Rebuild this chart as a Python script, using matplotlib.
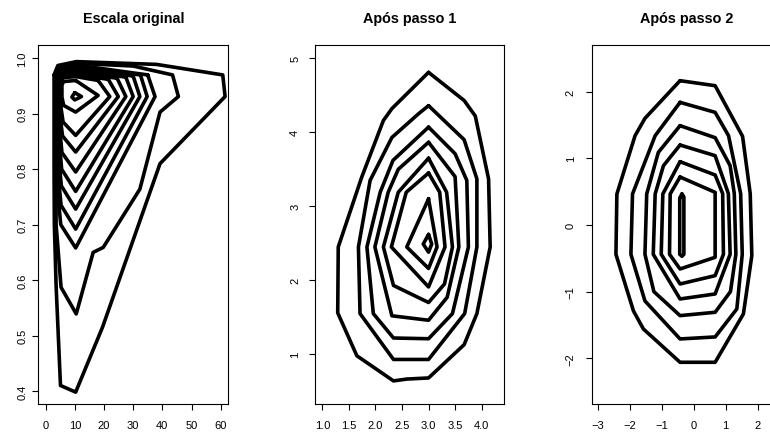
import matplotlib
matplotlib.use("Agg")
import matplotlib.pyplot as plt

plt.rcParams['font.family'] = ['Liberation Sans', 'DejaVu Sans']

# ---------------- data: panel titles ----------------
titles = ["Escala original", "Após passo 1", "Após passo 2"]

# ---------------- panel 1 (original scale) contour polylines ----------------
p1_c1_x = [2.9, 4.2, 10.5, 38.0, 60.7, 61.5, 39.2, 19.5, 10.3, 5.1, 3.6, 3.0, 2.9, 2.9]
p1_c1_y = [0.970, 0.987, 0.994, 0.989, 0.970, 0.931, 0.810, 0.515, 0.398, 0.410, 0.590, 0.700, 0.800, 0.970]
p1_c2_x = [3.4, 4.6, 10.4, 30.0, 43.5, 45.5, 39.2, 32.3, 19.75, 16.3, 10.5, 5.3, 3.6, 3.4]
p1_c2_y = [0.972, 0.985, 0.991, 0.986, 0.970, 0.931, 0.903, 0.764, 0.659, 0.650, 0.539, 0.587, 0.700, 0.972]
p1_c3_x = [35.0, 37.5, 10.3, 5.2, 4.1, 4.1, 5.2, 10.3, 35.0]
p1_c3_y = [0.970, 0.931, 0.658, 0.700, 0.760, 0.968, 0.983, 0.988, 0.970]
p1_c4_x = [32.5, 34.8, 10.3, 5.3, 4.3, 4.3, 5.3, 10.3, 32.5]
p1_c4_y = [0.970, 0.931, 0.692, 0.735, 0.790, 0.966, 0.980, 0.985, 0.970]
p1_c5_x = [30.0, 32.3, 10.3, 5.4, 4.5, 4.5, 5.4, 10.3, 30.0]
p1_c5_y = [0.968, 0.931, 0.728, 0.770, 0.820, 0.964, 0.977, 0.982, 0.968]
p1_c6_x = [27.5, 30.0, 10.3, 5.5, 4.7, 4.7, 5.5, 10.3, 27.5]
p1_c6_y = [0.966, 0.931, 0.760, 0.800, 0.850, 0.962, 0.974, 0.979, 0.966]
p1_c7_x = [24.5, 27.5, 10.3, 5.6, 4.9, 4.9, 5.6, 10.3, 24.5]
p1_c7_y = [0.964, 0.931, 0.795, 0.830, 0.870, 0.960, 0.971, 0.975, 0.964]
p1_c8_x = [21.5, 24.9, 10.3, 5.8, 5.1, 5.1, 5.8, 10.3, 21.5]
p1_c8_y = [0.962, 0.931, 0.831, 0.860, 0.890, 0.958, 0.968, 0.971, 0.962]
p1_c9_x = [18.0, 22.0, 10.3, 6.0, 5.3, 5.3, 6.0, 10.3, 18.0]
p1_c9_y = [0.960, 0.931, 0.861, 0.885, 0.910, 0.956, 0.965, 0.967, 0.960]
p1_c10_x = [10.3, 18.0, 10.3, 6.2, 5.6, 5.6, 6.2, 10.3]
p1_c10_y = [0.960, 0.933, 0.903, 0.915, 0.930, 0.952, 0.958, 0.960]
p1_c11_x = [10.0, 12.3, 10.0, 9.0, 10.0]
p1_c11_y = [0.938, 0.931, 0.925, 0.930, 0.938]

# ---------------- panel 2 (after step 1) ----------------
p2_c1_x = [3.0, 3.67, 3.88, 4.13, 4.16, 3.91, 3.67, 3.0, 2.59, 2.34, 1.65, 1.29, 1.30, 1.74, 2.15, 2.31, 3.0]
p2_c1_y = [4.81, 4.43, 4.22, 3.37, 2.45, 1.55, 1.13, 0.68, 0.665, 0.64, 0.98, 1.56, 2.45, 3.39, 4.16, 4.32, 4.81]
p2_c2_x = [3.0, 3.67, 3.91, 3.91, 3.68, 3.0, 2.34, 1.71, 1.68, 1.90, 2.31, 2.81, 3.0]
p2_c2_y = [4.36, 3.90, 3.37, 2.45, 1.55, 0.93, 0.93, 1.55, 2.45, 3.35, 3.93, 4.25, 4.36]
p2_c3_x = [3.0, 3.50, 3.72, 3.75, 3.45, 3.0, 2.34, 1.96, 1.84, 2.09, 2.33, 3.0]
p2_c3_y = [4.07, 3.71, 3.35, 2.45, 1.55, 1.21, 1.22, 1.55, 2.45, 3.19, 3.62, 4.07]
p2_c4_x = [3.0, 3.50, 3.57, 3.35, 3.0, 2.31, 1.99, 2.24, 2.43, 3.0]
p2_c4_y = [3.865, 3.40, 2.45, 1.77, 1.46, 1.52, 2.45, 3.19, 3.50, 3.865]
p2_c5_x = [3.0, 3.34, 3.45, 3.30, 3.0, 2.34, 2.15, 2.43, 3.0]
p2_c5_y = [3.65, 3.19, 2.45, 1.95, 1.70, 1.93, 2.45, 3.19, 3.65]
p2_c6_x = [3.0, 3.21, 3.31, 3.0, 2.30, 2.58, 3.0]
p2_c6_y = [3.45, 3.19, 2.45, 1.91, 2.45, 3.19, 3.45]
p2_c7_x = [3.0, 3.16, 3.0, 2.59, 3.0]
p2_c7_y = [3.10, 2.45, 2.16, 2.45, 3.10]
p2_c8_x = [3.0, 3.06, 3.0, 2.90, 3.0]
p2_c8_y = [2.62, 2.49, 2.38, 2.49, 2.62]

# ---------------- panel 3 (after step 2) ----------------
p3_c1_x = [-0.43, 0.67, 1.53, 1.77, 1.82, 1.556, 0.67, -0.43, -1.58, -1.89, -2.44, -2.41, -1.84, -1.53, -0.43]
p3_c1_y = [2.165, 2.09, 1.33, 0.47, -0.46, -1.335, -2.06, -2.06, -1.56, -1.29, -0.44, 0.465, 1.34, 1.60, 2.165]
p3_c2_x = [-0.43, 0.67, 1.09, 1.47, 1.52, 1.35, 0.67, -0.43, -1.53, -1.97, -1.92, -1.21, -0.43]
p3_c2_y = [1.84, 1.69, 1.34, 0.47, -0.44, -1.26, -1.68, -1.71, -1.14, -0.44, 0.465, 1.34, 1.84]
p3_c3_x = [-0.43, 0.67, 1.14, 1.27, 1.32, 1.15, 0.67, -0.43, -1.25, -1.53, -1.475, -1.11, -0.43]
p3_c3_y = [1.49, 1.31, 0.89, 0.47, -0.44, -1.0, -1.31, -1.36, -1.0, -0.44, 0.465, 1.09, 1.49]
p3_c4_x = [-0.43, 0.67, 1.085, 1.14, 0.67, -0.43, -1.27, -1.21, -0.95, -0.43]
p3_c4_y = [1.20, 1.04, 0.47, -0.44, -1.035, -1.11, -0.44, 0.465, 0.89, 1.20]
p3_c5_x = [-0.43, 0.67, 0.906, 0.93, 0.67, -0.43, -1.02, -0.97, -0.43]
p3_c5_y = [0.95, 0.75, 0.47, -0.44, -0.76, -0.885, -0.44, 0.465, 0.95]
p3_c6_x = [-0.43, 0.67, 0.67, -0.43, -0.76, -0.74, -0.43]
p3_c6_y = [0.72, 0.49, -0.485, -0.66, -0.44, 0.465, 0.72]
p3_c7_x = [-0.44, -0.37, -0.31, -0.31, -0.37, -0.44, -0.44]
p3_c7_y = [0.40, 0.47, 0.42, -0.44, -0.47, -0.44, 0.40]

# ---------------- axes ticks / limits ----------------
p1_xticks = [0, 10, 20, 30, 40, 50, 60]
p1_yticks = [0.4, 0.5, 0.6, 0.7, 0.8, 0.9, 1.0]
p1_yticklabels = ["0.4", "0.5", "0.6", "0.7", "0.8", "0.9", "1.0"]
p2_xticks = [1.0, 1.5, 2.0, 2.5, 3.0, 3.5, 4.0]
p2_xticklabels = ["1.0", "1.5", "2.0", "2.5", "3.0", "3.5", "4.0"]
p2_yticks = [1, 2, 3, 4, 5]
p3_xticks = [-3, -2, -1, 0, 1, 2]
p3_yticks = [-2, -1, 0, 1, 2]

W, H = 770, 435
fig = plt.figure(figsize=(W / 100, H / 100), dpi=100)


def make_axes(left, right, top=45.7, bottom=405.0):
    return fig.add_axes([left / W, 1 - bottom / H, (right - left) / W, (bottom - top) / H])


def style(ax, title, ypad):
    for sp in ax.spines.values():
        sp.set_linewidth(0.8)
    ax.tick_params(direction='out', length=4.5, width=0.8, labelsize=8.0, pad=6.7)
    ax.tick_params(axis='y', labelrotation=90, pad=ypad)
    for lab in ax.get_yticklabels():
        lab.set_va('center')
    ax.set_title(title, fontsize=10.4, fontweight='bold', pad=16)


def draw(ax, xs, ys):
    ax.plot(xs, ys, color='black', lw=2.6, solid_joinstyle='round', solid_capstyle='round')


ax1 = make_axes(38.3, 228.3)
for xs, ys in [(p1_c1_x, p1_c1_y), (p1_c2_x, p1_c2_y), (p1_c3_x, p1_c3_y), (p1_c4_x, p1_c4_y),
               (p1_c5_x, p1_c5_y), (p1_c6_x, p1_c6_y), (p1_c7_x, p1_c7_y), (p1_c8_x, p1_c8_y),
               (p1_c9_x, p1_c9_y), (p1_c10_x, p1_c10_y), (p1_c11_x, p1_c11_y)]:
    draw(ax1, xs, ys)
ax1.set_xlim(-2.5, 62.6)
ax1.set_ylim(0.3766, 1.0245)
ax1.set_xticks(p1_xticks)
ax1.set_yticks(p1_yticks)
ax1.set_yticklabels(p1_yticklabels)
style(ax1, titles[0], 3.3)

ax2 = make_axes(315.3, 504.3)
for xs, ys in [(p2_c1_x, p2_c1_y), (p2_c2_x, p2_c2_y), (p2_c3_x, p2_c3_y), (p2_c4_x, p2_c4_y),
               (p2_c5_x, p2_c5_y), (p2_c6_x, p2_c6_y), (p2_c7_x, p2_c7_y), (p2_c8_x, p2_c8_y)]:
    draw(ax2, xs, ys)
ax2.set_xlim(0.868, 4.426)
ax2.set_ylim(0.328, 5.184)
ax2.set_xticks(p2_xticks)
ax2.set_xticklabels(p2_xticklabels)
ax2.set_yticks(p2_yticks)
style(ax2, titles[1], 6.4)

ax3 = make_axes(592.0, 782.0)
for xs, ys in [(p3_c1_x, p3_c1_y), (p3_c2_x, p3_c2_y), (p3_c3_x, p3_c3_y), (p3_c4_x, p3_c4_y),
               (p3_c5_x, p3_c5_y), (p3_c6_x, p3_c6_y), (p3_c7_x, p3_c7_y)]:
    draw(ax3, xs, ys)
ax3.set_xlim(-3.19, 2.766)
ax3.set_ylim(-2.686, 2.705)
ax3.set_xticks(p3_xticks)
ax3.set_yticks(p3_yticks)
style(ax3, titles[2], 7.2)

fig.savefig("out.png", dpi=100)
